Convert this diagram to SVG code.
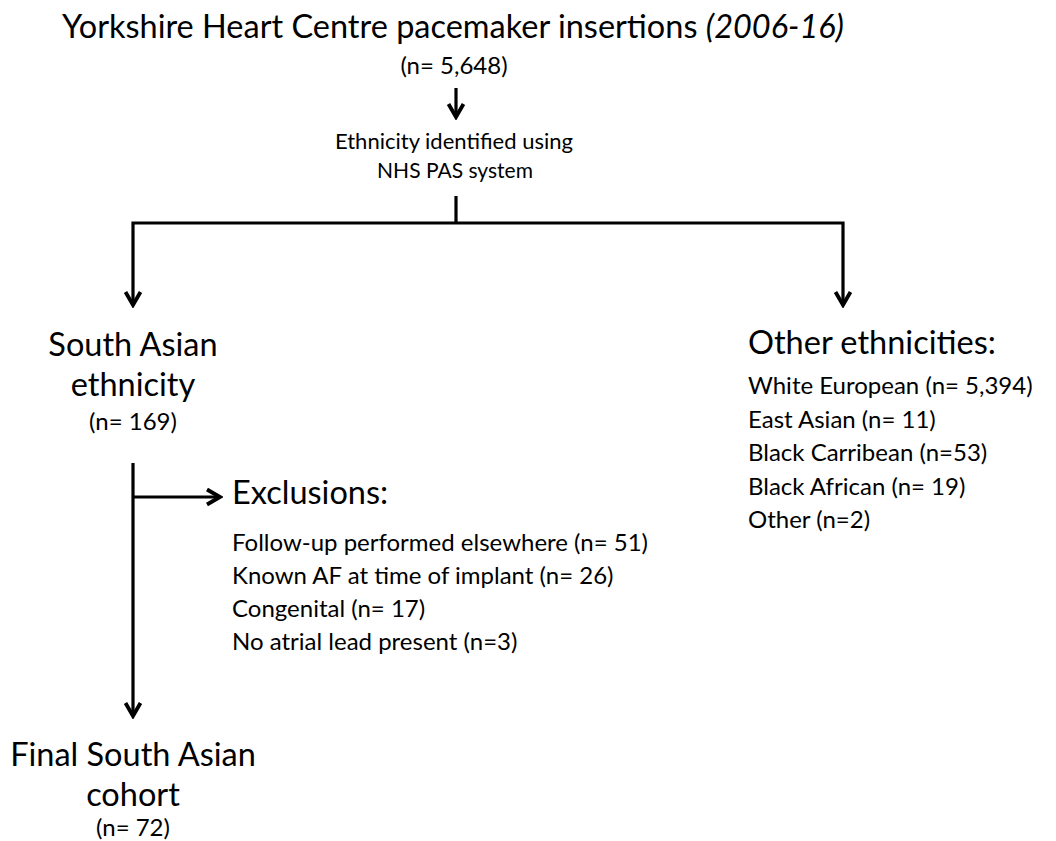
<svg xmlns="http://www.w3.org/2000/svg" width="1056" height="841" viewBox="0 0 1056 841">
  <style>
    text { font-family: Lato, "Open Sans", "Liberation Sans", sans-serif; fill: #000; }
    .title { font-size: 32px; }
    .head { font-size: 32.5px; }
    .mid { text-anchor: middle; }
    .n { font-size: 24px; }
    .item { font-size: 24px; }
    .small { font-size: 21px; }
    .line { fill: none; stroke: #000; stroke-width: 3.2; }
  </style>
  <defs>
    <marker id="chev" viewBox="0 0 20 20" refX="17" refY="10" markerWidth="20" markerHeight="20" orient="auto" markerUnits="userSpaceOnUse">
      <path d="M4,2.5 L17,10 L4,17.5" fill="none" stroke="#000" stroke-width="3.8"/>
    </marker>
  </defs>

  <rect width="1056" height="841" fill="#fff"/>

  <g id="connectors">
    <line class="line" x1="456" y1="88" x2="456" y2="117" marker-end="url(#chev)"/>
    <polyline class="line" points="456,196 456,223"/>
    <polyline class="line" points="456,223 133,223 133,305" marker-end="url(#chev)"/>
    <polyline class="line" points="456,223 843,223 843,305" marker-end="url(#chev)"/>
    <line class="line" x1="133" y1="463" x2="133" y2="716" marker-end="url(#chev)"/>
    <line class="line" x1="133" y1="497" x2="220" y2="497" marker-end="url(#chev)"/>
  </g>

  <g id="source">
    <text class="title" x="62" y="38" textLength="782" lengthAdjust="spacingAndGlyphs">Yorkshire Heart Centre pacemaker insertions <tspan font-style="italic">(2006-16)</tspan></text>
    <text class="n mid" x="454" y="74">(n= 5,648)</text>
  </g>

  <g id="identification">
    <text class="small" x="335" y="149" textLength="238" lengthAdjust="spacingAndGlyphs">Ethnicity identified using</text>
    <text class="small mid" x="455" y="178">NHS PAS system</text>
  </g>

  <g id="south-asian">
    <text class="head mid" x="133" y="356">South Asian</text>
    <text class="head mid" x="133" y="396">ethnicity</text>
    <text class="n mid" x="133" y="430">(n= 169)</text>
  </g>

  <g id="other-ethnicities">
    <text class="head" x="748" y="354">Other ethnicities:</text>
    <text class="item" x="748" y="394">White European (n= 5,394)</text>
    <text class="item" x="748" y="428">East Asian (n= 11)</text>
    <text class="item" x="748" y="461">Black Carribean (n=53)</text>
    <text class="item" x="748" y="495">Black African (n= 19)</text>
    <text class="item" x="748" y="528">Other (n=2)</text>
  </g>

  <g id="exclusions">
    <text class="head" x="232" y="504">Exclusions:</text>
    <text class="item" x="232" y="551">Follow-up performed elsewhere (n= 51)</text>
    <text class="item" x="232" y="584">Known AF at time of implant (n= 26)</text>
    <text class="item" x="232" y="617">Congenital (n= 17)</text>
    <text class="item" x="232" y="650">No atrial lead present (n=3)</text>
  </g>

  <g id="final-cohort">
    <text class="head mid" x="133" y="766">Final South Asian</text>
    <text class="head mid" x="133" y="806">cohort</text>
    <text class="n mid" x="133" y="836">(n= 72)</text>
  </g>
</svg>
